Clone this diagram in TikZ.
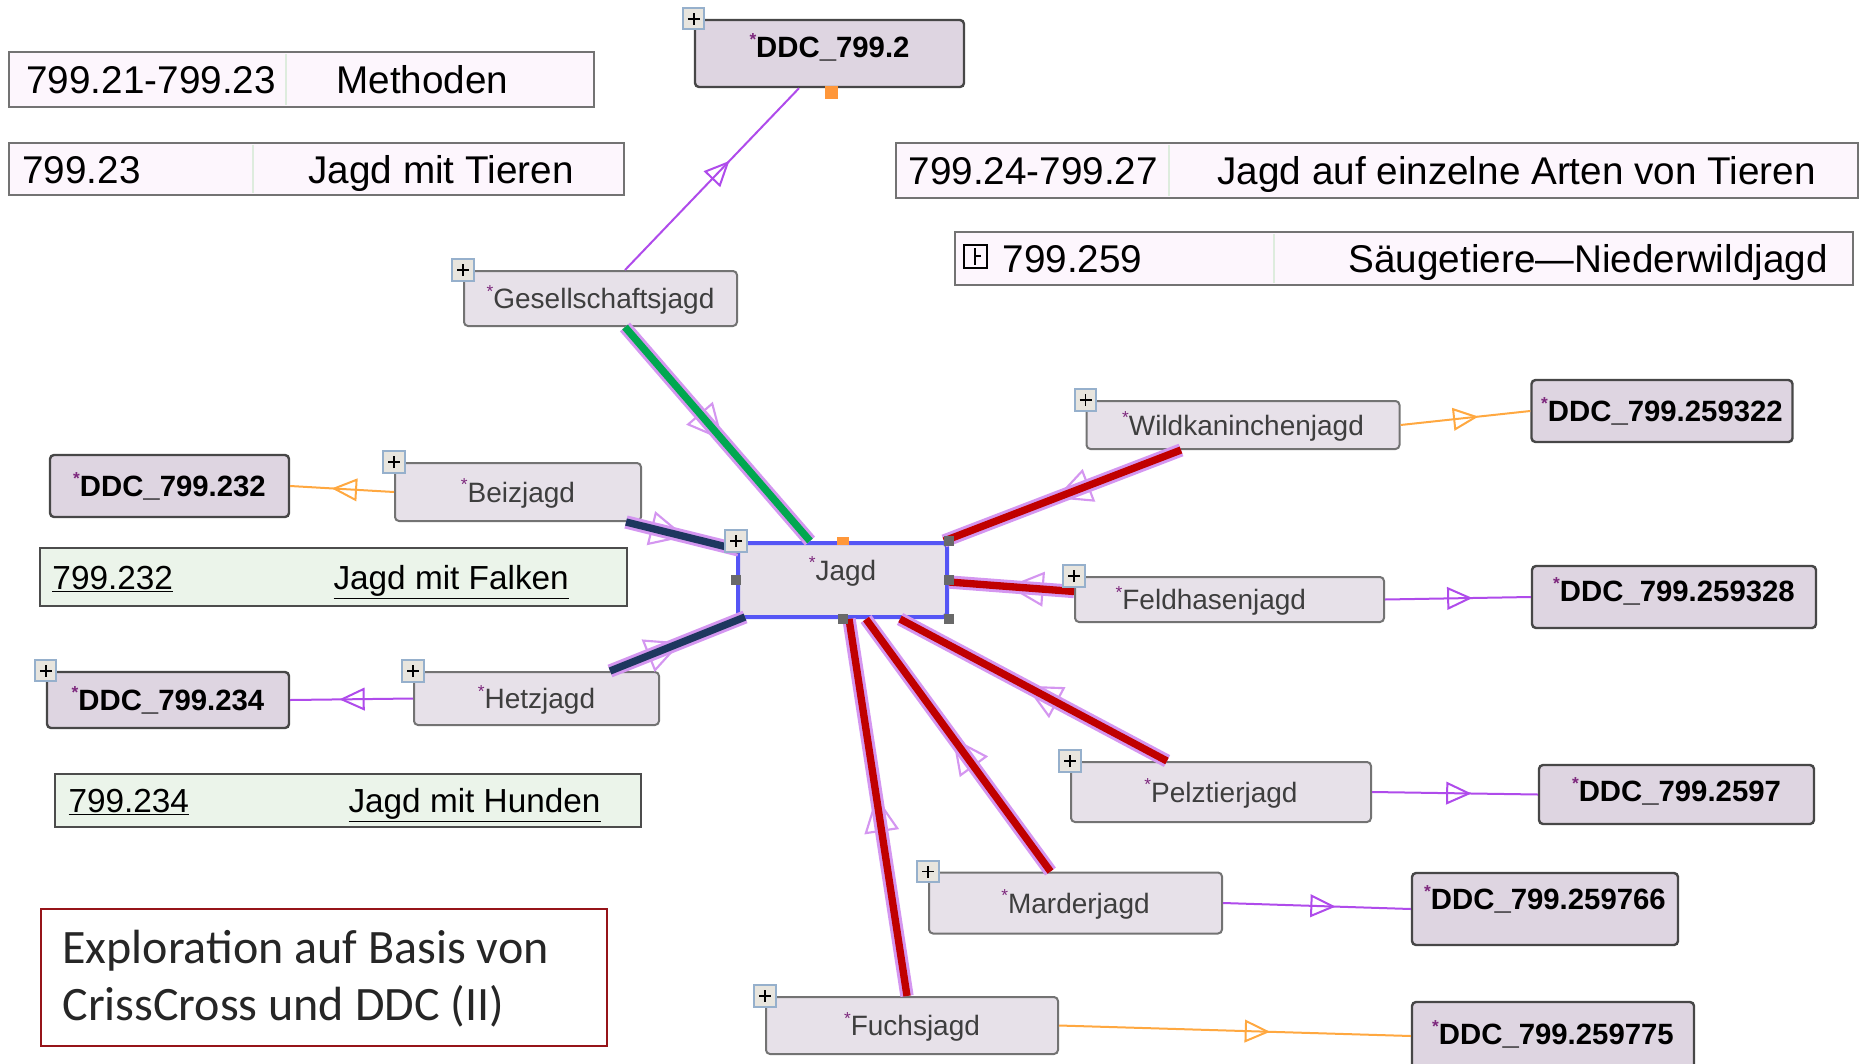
\documentclass[tikz,border=0pt]{standalone}
\usepackage{fontspec}
\setmainfont{Liberation Sans}
\newfontfamily\slidefont{Carlito}
\usetikzlibrary{arrows.meta,decorations.markings,calc}

\definecolor{conceptfill}{RGB}{231,225,233}
\definecolor{ddcfill}{RGB}{222,213,225}
\definecolor{boxline}{RGB}{115,115,115}
\definecolor{infofill}{RGB}{253,246,253}
\definecolor{notefill}{RGB}{235,244,234}
\definecolor{divline}{RGB}{222,236,222}
\definecolor{glowc}{RGB}{212,150,240}
\definecolor{redc}{RGB}{192,0,0}
\definecolor{greenc}{RGB}{0,168,80}
\definecolor{navyc}{RGB}{30,55,95}
\definecolor{violetc}{RGB}{175,75,235}
\definecolor{orangec}{RGB}{255,168,64}
\definecolor{selc}{RGB}{85,85,245}
\definecolor{starc}{RGB}{125,40,125}
\definecolor{plusline}{RGB}{150,176,204}
\definecolor{plusfill}{RGB}{232,229,222}
\definecolor{handlec}{RGB}{105,105,105}
\definecolor{framec}{RGB}{150,20,25}
\definecolor{labelc}{RGB}{62,62,62}

\newcommand{\dstar}{\textcolor{starc}{\raisebox{.4em}{\fontsize{13}{13}\selectfont *}}}

\tikzset{every picture/.style={line width=0.75pt}}
\tikzset{
  concept/.style={draw=boxline, fill=conceptfill, rounded corners=3pt, line width=1.5pt, text=labelc, inner sep=0pt, text height=15pt, text depth=0pt, font=\fontsize{21}{25}\selectfont},
  ddc/.style={draw=black!72, fill=ddcfill, rounded corners=3pt, line width=1.8pt, inner sep=0pt, text height=16pt, text depth=0pt, font=\bfseries\fontsize{22}{26}\selectfont},
  plusbox/.style={draw=plusline, fill=plusfill, line width=1.5pt, minimum size=16pt, inner sep=0pt,
    path picture={\draw[black, line width=1.1pt] ([xshift=-4.5pt]path picture bounding box.center) -- ([xshift=4.5pt]path picture bounding box.center) ([yshift=-4.5pt]path picture bounding box.center) -- ([yshift=4.5pt]path picture bounding box.center);}},
  infobox/.style={draw=boxline, fill=infofill, line width=1.5pt},
  notebox/.style={draw=black!70, fill=notefill, line width=1.8pt},
  divider/.style={draw=divline, line width=2pt},
  infotext/.style={anchor=west, inner sep=0pt, text height=21pt, text depth=0pt, font=\fontsize{29}{33}\selectfont},
  notetext/.style={anchor=west, inner sep=0pt, text height=18pt, text depth=0pt, font=\fontsize{25}{29}\selectfont},
  thinedge/.style={line width=1.5pt, postaction={decorate, decoration={markings, mark=at position .6 with {\arrow{Triangle[open,length=19pt,width=17pt,line width=1.5pt]}}}}},
  thickedge/.style={line width=5.5pt, preaction={draw=glowc, line width=10pt}, preaction={decorate, decoration={markings, mark=at position .53 with {\arrow{Triangle[open,length=27pt,width=26pt,line width=1.6pt,color=glowc]}}}}},
  slidetext/.style={anchor=west, align=left, inner sep=0pt, text=black!85, font=\slidefont\fontsize{36}{42.75}\selectfont}
}

\begin{document}
\begin{tikzpicture}[x=0.75pt,y=0.75pt,yscale=-1,xscale=1]
	\useasboundingbox (0,0) rectangle (1861,1064);
	
	%Shape: Rectangle [Methoden]
	\draw [infobox] (9,52) rectangle (594,107) ;
	\draw [divider] (286,54) -- (286,105) ;
	%Shape: Rectangle [Jagd mit Tieren]
	\draw [infobox] (9,143) rectangle (624,195) ;
	\draw [divider] (253,145) -- (253,193) ;
	%Shape: Rectangle [Arten von Tieren]
	\draw [infobox] (896,143) rectangle (1858,198) ;
	\draw [divider] (1169,145) -- (1169,196) ;
	%Shape: Rectangle [Saeugetiere]
	\draw [infobox] (955,232) rectangle (1853,285) ;
	\draw [divider] (1274,234) -- (1274,283) ;
	\draw [line width=1.2pt] (964,245) rectangle (987,268) ;
	\draw [line width=1.2pt] (975,248) -- (975,265) (975,256) -- (981,256) ;
	%Shape: Rectangle [Falken]
	\draw [notebox] (40,548) rectangle (627,606) ;
	%Shape: Rectangle [Hunde]
	\draw [notebox] (55,774) rectangle (641,827) ;
	%Shape: Rectangle [Exploration]
	\draw [draw=framec, line width=2pt] (41,909) rectangle (607,1046) ;
	
	% Text Node
	\draw (26,79.5) node [infotext] (mthcode) {799.21-799.23};
	% Text Node
	\draw (336,79.5) node [infotext] (mthname) {Methoden};
	% Text Node
	\draw (22,169) node [infotext] (tiecode) {799.23};
	% Text Node
	\draw (308,169) node [infotext] (tiename) {Jagd mit Tieren};
	% Text Node
	\draw (908,170.5) node [infotext] (artcode) {799.24-799.27};
	% Text Node
	\draw (1217,170.5) node [infotext] (artname) {Jagd auf einzelne Arten von Tieren};
	% Text Node
	\draw (1002,258.5) node [infotext] (saecode) {799.259};
	% Text Node
	\draw (1348,258.5) node [infotext] (saename) {Säugetiere—Niederwildjagd};
	% Text Node
	\draw (52,577) node [notetext] (falcode) {\underline{799.232}};
	% Text Node
	\draw (333,577) node [notetext] (falname) {\underline{Jagd mit Falken}};
	% Text Node
	\draw (68,800.5) node [notetext] (hdcode) {\underline{799.234}};
	% Text Node
	\draw (348,800.5) node [notetext] (hdname) {\underline{Jagd mit Hunden}};
	% Text Node
	\draw (62,979) node [slidetext] (expl) {Exploration auf Basis von\\CrissCross und DDC (II)};
	
	%Concepts
	\draw (829.5,53.5) node [ddc, minimum width=201.75pt, minimum height=50.25pt, text depth=10pt] (ddc2) {\dstar DDC\_799.2};
	\draw (600.5,298.5) node [concept, minimum width=204.75pt, minimum height=41.25pt] (gj) {\dstar Gesellschaftsjagd};
	\draw (1243,425) node [concept, minimum width=234.75pt, minimum height=36pt] (wk) {\dstar Wildkaninchenjagd};
	\draw (1662,411) node [ddc, minimum width=195.75pt, minimum height=46.5pt] (ddc322) {\dstar DDC\_799.259322};
	\draw (169.5,486) node [ddc, minimum width=179.25pt, minimum height=46.5pt] (ddc232) {\dstar DDC\_799.232};
	\draw (518,492) node [concept, minimum width=184.5pt, minimum height=43.5pt] (bz) {\dstar Beizjagd};
	\draw (842.5,580) node [concept, draw=selc, line width=3pt, minimum width=156.75pt, minimum height=55.5pt, text depth=15pt] (jagd) {\dstar Jagd};
	\draw (1229.5,599.5) node [concept, minimum width=231.75pt, minimum height=33.75pt] (fh) {\dstar Feldhasenjagd\hspace*{28pt}};
	\draw (1674,597) node [ddc, minimum width=213pt, minimum height=46.5pt, text depth=9pt] (ddc328) {\dstar DDC\_799.259328};
	\draw (168,700) node [ddc, minimum width=181.5pt, minimum height=42pt] (ddc234) {\dstar DDC\_799.234};
	\draw (536.5,698.5) node [concept, minimum width=183.75pt, minimum height=39.75pt] (hz) {\dstar Hetzjagd};
	\draw (1221,792) node [concept, minimum width=225pt, minimum height=45pt] (pz) {\dstar Pelztierjagd};
	\draw (1676.5,794.5) node [ddc, minimum width=206.25pt, minimum height=44.25pt, text depth=6pt] (ddc2597) {\dstar DDC\_799.2597};
	\draw (1075.5,903) node [concept, minimum width=219.75pt, minimum height=45.75pt] (md) {\dstar Marderjagd};
	\draw (1545,909) node [ddc, minimum width=199.5pt, minimum height=54pt, text depth=16pt] (ddc766) {\dstar DDC\_799.259766};
	\draw (912,1025.5) node [concept, minimum width=219pt, minimum height=42.75pt] (fj) {\dstar Fuchsjagd};
	\draw (1553,1036) node [ddc, minimum width=211.5pt, minimum height=51pt, text depth=4pt] (ddc775) {\dstar DDC\_799.259775};
	
	%Straight Lines [to Jagd]
	\draw [thickedge, greenc] ($(gj.south)+(24.5,0)$) -- ($(jagd.north)+(-32.5,0)$) ;
	\draw [thickedge, navyc] ($(bz.south east)+(-16,0)$) -- ($(jagd.north west)+(3,9)$) ;
	\draw [thickedge, navyc] ($(hz.north east)+(-50,0)$) -- ($(jagd.south west)+(9,-2)$) ;
	\draw [thickedge, redc] ($(wk.south)+(-62,0)$) -- ($(jagd.north east)+(-5,0)$) ;
	\draw [thickedge, redc] ($(fh.west)+(0,-8)$) -- ($(jagd.east)+(0,2)$) ;
	\draw [thickedge, redc] ($(pz.north)+(-54,0)$) -- ($(jagd.south)+(57.5,0)$) ;
	\draw [thickedge, redc] ($(md.north)+(-25,0)$) -- ($(jagd.south)+(23.5,0)$) ;
	\draw [thickedge, redc] ($(fj.north)+(-5,0)$) -- ($(jagd.south)+(6.5,0)$) ;
	
	%Straight Lines [to DDC]
	\draw [thinedge, violetc] ($(gj.north)+(24.5,0)$) -- ($(ddc2.south)+(-30.5,0)$) ;
	\draw [thinedge, orangec] (bz.west) -- (ddc232.east) ;
	\draw [thinedge, violetc] (hz.west) -- (ddc234.east) ;
	\draw [thinedge, orangec] (wk.east) -- (ddc322.west) ;
	\draw [thinedge, violetc] (fh.east) -- (ddc328.west) ;
	\draw [thinedge, violetc] (pz.east) -- (ddc2597.west) ;
	\draw [thinedge, violetc] (md.east) -- (ddc766.west) ;
	\draw [thinedge, orangec] (fj.east) -- (ddc775.west) ;
	
	%Handles
	\foreach \a in {west,east,south,south east,north east}
	  \fill [handlec] ($(jagd.\a)+(-5,-5)$) rectangle +(10,10) ;
	\fill [orangec!90!red] ($(jagd.north)+(-6,-4)$) rectangle +(12,8) ;
	\fill [orangec!90!red] ($(ddc2.south)+(-4.5,-2)$) rectangle +(13,13) ;
	
	%Expand buttons
	\foreach \n in {ddc2,gj,bz,jagd,wk,fh,ddc234,hz,pz,md,fj}
	  \draw (\n.north west) node [plusbox] (plus-\n) {};
	
\end{tikzpicture}
\end{document}
